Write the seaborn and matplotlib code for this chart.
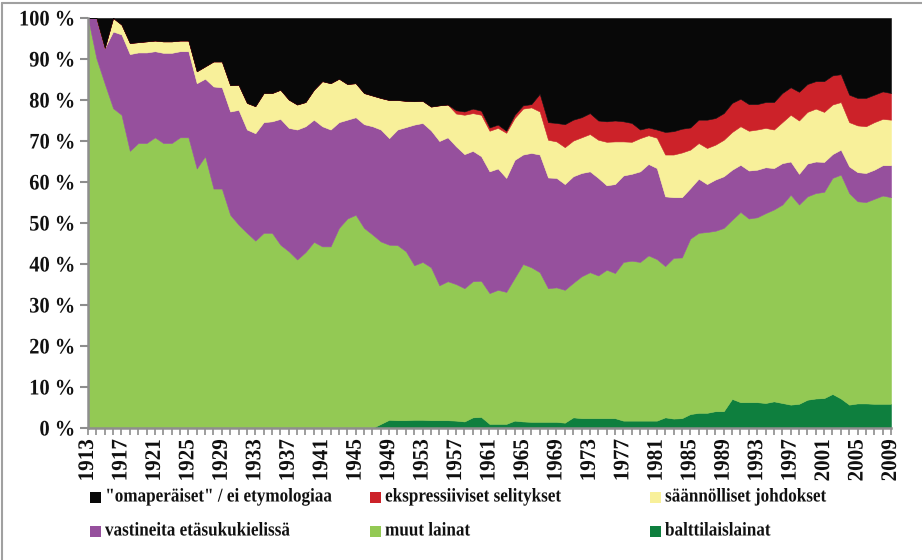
import matplotlib
matplotlib.use("Agg")
import matplotlib.pyplot as plt
from matplotlib.patches import Rectangle
from matplotlib.lines import Line2D
from matplotlib.patheffects import AbstractPathEffect
from matplotlib.transforms import Affine2D
import seaborn as sns

years = list(range(1913, 2010))

balttilaislainat = [
    0, 0, 0, 0, 0, 0, 0, 0, 0, 0, 0, 0, 0, 0, 0, 0, 0, 0, 0, 0,
    0, 0, 0, 0, 0, 0, 0, 0, 0, 0, 0, 0, 0, 0, 0, 1.0, 2.0, 1.9, 1.9, 2.0,
    2.0, 1.9, 1.9, 1.9, 1.8, 1.6, 2.6, 2.7, 1.0, 1.0, 1.0, 1.8, 1.6, 1.5, 1.5, 1.5,
    1.5, 1.3, 2.6, 2.4, 2.4, 2.4, 2.4, 2.4, 1.8, 1.8, 1.8, 1.8, 1.8, 2.6, 2.3, 2.4,
    3.4, 3.7, 3.7, 4.1, 4.1, 7.1, 6.3, 6.3, 6.3, 6.1, 6.5, 6.1, 5.7, 5.9, 6.9, 7.2,
    7.3, 8.3, 7.2, 5.7, 6.0, 6.0, 5.9, 5.9, 5.9]
muut_lainat = [
    100, 90.2, 84.0, 78.0, 76.4, 67.6, 69.5, 69.5, 70.9, 69.5, 69.5, 70.9, 70.9, 63.3, 66.3, 58.4, 58.4, 52.0, 49.6, 47.6,
    45.7, 47.6, 47.6, 44.7, 43.1, 41.1, 42.9, 45.4, 44.3, 44.3, 48.8, 51.1, 52.0, 48.8, 47.2, 44.5, 42.7, 42.7, 41.2, 37.7,
    38.5, 37.3, 32.9, 33.9, 33.3, 32.5, 33.2, 33.2, 31.9, 32.7, 32.2, 34.8, 38.4, 37.7, 36.5, 32.6,
    32.8, 32.4, 32.8, 34.6, 35.6, 34.8, 36.2, 35.4, 38.7, 39.0, 38.7, 40.3, 39.4, 36.9, 39.2, 39.2,
    42.8, 43.9, 44.1, 44.0, 44.7, 43.7, 46.4, 44.8, 45.1, 46.3, 46.8, 48.4, 51.2, 48.6, 49.6, 50.1,
    50.3, 52.7, 54.6, 51.6, 49.3, 49.1, 50.0, 50.8, 50.4]
vastineita = [
    0, 9.8, 8.7, 18.7, 19.6, 23.6, 22.1, 22.1, 21.0, 22.0, 22.0, 21.0, 21.0, 20.8, 18.9, 24.9, 24.7, 25.2, 28.0, 25.2,
    26.2, 27.0, 27.2, 30.7, 30.1, 31.7, 30.7, 29.8, 29.3, 28.5, 25.8, 24.1, 23.8, 25.3, 26.4, 27.3, 26.0, 28.2, 30.3, 34.3,
    33.9, 33.4, 35.2, 35.1, 33.6, 32.7, 31.8, 30.4, 29.7, 29.6, 27.8, 28.8, 26.7, 27.9, 28.7, 27.0,
    26.7, 25.8, 26.0, 25.2, 24.6, 23.8, 20.6, 21.7, 21.1, 21.2, 22.1, 22.3, 22.2, 17.0, 14.8, 14.7,
    12.3, 13.2, 11.7, 12.5, 12.6, 12.2, 11.5, 11.7, 11.6, 11.2, 10.1, 10.1, 8.1, 7.5, 8.0, 7.7,
    7.3, 5.8, 6.1, 6.5, 7.1, 7.1, 7.1, 7.4, 7.8]
saannolliset = [
    0, 0, 0, 3.3, 2.4, 2.7, 2.5, 2.7, 2.6, 2.8, 2.8, 2.6, 2.6, 2.9, 3.0, 6.1, 6.3, 6.4, 6.1, 6.5,
    6.6, 7.1, 6.9, 7.1, 6.9, 6.1, 5.9, 7.3, 11.0, 11.3, 10.6, 8.7, 8.3, 7.6, 7.5, 7.7, 9.3, 7.2, 6.4, 5.7,
    5.4, 5.8, 8.7, 8.0, 8.0, 9.6, 9.2, 10.1, 9.9, 9.9, 11.0, 10.2, 11.2, 11.1, 10.5, 9.2,
    8.9, 9.0, 8.7, 8.7, 9.1, 9.3, 10.6, 10.4, 8.3, 7.8, 8.1, 7.0, 7.4, 10.2, 10.4, 10.9,
    9.4, 8.7, 8.8, 8.5, 8.9, 9.2, 9.4, 9.7, 9.8, 9.6, 9.4, 10.0, 11.4, 13.0, 12.6, 12.9,
    12.2, 12.1, 11.6, 10.8, 11.4, 11.4, 11.6, 11.3, 11.1]
ekspressiiviset = [
    0, 0, 0, 0, 0, 0, 0, 0, 0, 0, 0, 0, 0, 0, 0, 0, 0, 0, 0, 0,
    0, 0, 0, 0, 0, 0, 0, 0, 0, 0, 0, 0, 0, 0, 0, 0, 0, 0, 0, 0,
    0, 0, 0, 0, 0.8, 0.8, 1.1, 1.0, 0.8, 0.8, 0.5, 0.8, 0.8, 0.8, 4.3, 4.3,
    4.5, 5.6, 5.1, 4.9, 5.1, 4.7, 5.0, 5.1, 4.9, 4.6, 2.1, 1.9, 2.0, 5.5, 5.7, 5.8,
    5.4, 5.7, 6.9, 6.5, 6.5, 7.1, 6.7, 6.5, 6.2, 6.3, 6.7, 7.1, 6.7, 7.0, 6.8, 6.7,
    7.5, 7.1, 6.8, 6.7, 6.7, 6.9, 6.7, 6.7, 6.5]
omaperaiset = [
    0, 0, 7.3, 0, 1.6, 6.1, 5.9, 5.7, 5.5, 5.7, 5.7, 5.5, 5.5, 13.0, 11.8, 10.6, 10.6, 16.4, 16.3, 20.7,
    21.5, 18.3, 18.3, 17.5, 19.9, 21.1, 20.5, 17.5, 15.4, 15.9, 14.8, 16.1, 15.9, 18.3, 18.9, 19.5, 20.0, 20.0, 20.2, 20.3,
    20.2, 21.6, 21.3, 21.1, 22.5, 22.8, 22.1, 22.6, 26.7, 26.0, 27.5, 23.6, 21.3, 21.0, 18.5, 25.4,
    25.6, 25.9, 24.8, 24.2, 23.2, 25.0, 25.2, 25.0, 25.2, 25.6, 27.2, 26.7, 27.2, 27.8, 27.6, 27.0,
    26.7, 24.8, 24.8, 24.4, 23.2, 20.7, 19.7, 21.0, 21.0, 20.5, 20.5, 18.3, 16.9, 18.0, 16.1, 15.4,
    15.4, 14.0, 13.7, 18.7, 19.5, 19.5, 18.7, 17.9, 18.3]

series_labels = ['"omaperäiset" / ei etymologiaa', 'ekspressiiviset selitykset',
                 'säännölliset johdokset', 'vastineita etäsukukielissä',
                 'muut lainat', 'balttilaislainat']
series_colors = ['#080808', '#CC2229', '#F8F09A', '#96509D', '#93C954', '#0E7F3E']
y_ticks = list(range(0, 101, 10))
y_tick_labels = [f"{v} %" for v in y_ticks]
x_tick_labels = [str(y) if (y - 1913) % 4 == 0 else "" for y in years]


class Condense(AbstractPathEffect):
    """Draw text horizontally compressed (mimics a condensed typeface)."""
    def __init__(self, sx=0.8, anchor='left'):
        super().__init__()
        self.sx = sx
        self.anchor = anchor

    def draw_path(self, renderer, gc, tpath, affine, rgbFace=None):
        ext = tpath.get_extents()
        if self.anchor == 'left':
            cx = ext.x0
        elif self.anchor == 'right':
            cx = ext.x1
        else:
            cx = 0.5 * (ext.x0 + ext.x1)
        t = Affine2D().translate(-cx, 0).scale(self.sx, 1).translate(cx, 0) + affine
        renderer.draw_path(gc, tpath, t, rgbFace)


sns.set_theme(style="white")
plt.rcParams['font.family'] = ['Liberation Serif', 'DejaVu Serif']

W, H = 922, 560
fig = plt.figure(figsize=(W / 100, H / 100), dpi=100)
ax = fig.add_axes([88 / W, 1 - 428 / H, (891 - 88) / W, (428 - 18) / H])

data_bottom_up = [balttilaislainat, muut_lainat, vastineita, saannolliset, ekspressiiviset, omaperaiset]
colors_bottom_up = [series_colors[5], series_colors[4], series_colors[3],
                    series_colors[2], series_colors[1], series_colors[0]]
polys = ax.stackplot(years, *data_bottom_up, colors=colors_bottom_up)
for p, c in zip(polys, colors_bottom_up):
    p.set_edgecolor(c)
    p.set_linewidth(0.4)

ax.set_xlim(1913, 2009)
ax.set_ylim(0, 100)
gray = '#8E8E8E'
for s in ['top', 'right']:
    ax.spines[s].set_visible(False)
for s in ['left', 'bottom']:
    ax.spines[s].set_color(gray)
    ax.spines[s].set_linewidth(1.8)
    ax.spines[s].set_zorder(5)

ax.set_yticks(y_ticks)
ax.set_yticklabels(y_tick_labels, fontsize=16, color='#111111', fontweight='bold')
ax.set_xticks(years)
ax.set_xticklabels(x_tick_labels, rotation=90, fontsize=16, color='#111111', fontweight='bold')
for lab in ax.get_yticklabels():
    lab.set_path_effects([Condense(0.92, 'right')])
for lab in ax.get_xticklabels():
    lab.set_path_effects([Condense(0.95, 'right')])
ax.tick_params(axis='y', direction='out', length=6, width=1.5, color=gray, pad=3, left=True)
ax.tick_params(axis='x', direction='out', length=5, width=1.2, color=gray, pad=3, bottom=True)
ax.grid(False)

# outer frame (left & top)
fig.add_artist(Line2D([2 / W, 2 / W], [0, 1 - 3 / H], color='#A0A0A0', lw=1.5, transform=fig.transFigure))
fig.add_artist(Line2D([2 / W, 1], [1 - 3 / H, 1 - 3 / H], color='#A0A0A0', lw=1.5, transform=fig.transFigure))

# legend (manual placement, 3 columns x 2 rows)
col_x = [90, 370, 650]
row_y = [497, 531]
for i in range(6):
    r, c = divmod(i, 3)
    x0, y0 = col_x[c], row_y[r]
    fig.add_artist(Rectangle((x0 / W, 1 - (y0 + 5.5) / H), 11 / W, 11 / H,
                             transform=fig.transFigure, facecolor=series_colors[i], edgecolor='none'))
    t = fig.text((x0 + 15) / W, 1 - y0 / H, series_labels[i], fontsize=14, va='center', ha='left',
                 color='#111111', fontweight='bold')
    t.set_path_effects([Condense(0.88, 'left')])

fig.savefig("out.png", dpi=100)
